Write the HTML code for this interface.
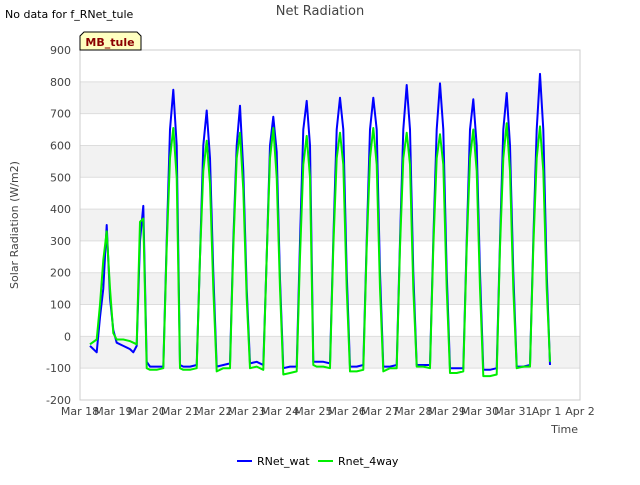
<!DOCTYPE html>
<html><head><meta charset="utf-8"><style>
body{margin:0;background:#fff;font-family:"Liberation Sans",sans-serif}
svg text{font-family:"DejaVu Sans","Liberation Sans",sans-serif}
</style></head><body>
<svg id="chart" width="640" height="480">
<rect width="640" height="480" fill="#fff"/>
<g id="bands"></g><g id="grid"></g>
<rect x="80" y="50" width="500" height="350" fill="none" stroke="#ccc"/>
<g id="axes"></g><g id="series"></g>
<text x="5" y="18" font-size="11" fill="#000">No data for f_RNet_tule</text>
<text x="320" y="15" font-size="13" fill="#444" text-anchor="middle">Net Radiation</text>
<g><path d="M80,50 L80,36 L84,32 L137,32 L141,36 L141,50 Z" fill="#ffffc0" stroke="#000"/>
<text x="110" y="46" font-size="11" font-weight="bold" fill="#8b0000" text-anchor="middle">MB_tule</text></g>
<text x="18" y="225" font-size="11" fill="#444" text-anchor="middle" transform="rotate(-90 18 225)">Solar Radiation (W/m2)</text>
<text x="578" y="433" font-size="11" fill="#444" text-anchor="end">Time</text>
<g><line x1="237" y1="461" x2="252" y2="461" stroke="#0000ff" stroke-width="2"/><text x="257" y="465" font-size="11" fill="#000">RNet_wat</text></g>
<g><line x1="318" y1="461" x2="333" y2="461" stroke="#00ee00" stroke-width="2"/><text x="338" y="465" font-size="11" fill="#000">Rnet_4way</text></g>
</svg>
<script>
const yTicks=[-200,-100,0,100,200,300,400,500,600,700,800,900];
const xLabels=["Mar 18","Mar 19","Mar 20","Mar 21","Mar 22","Mar 23","Mar 24","Mar 25","Mar 26","Mar 27","Mar 28","Mar 29","Mar 30","Mar 31","Apr 1","Apr 2"];
const dayOffsets=[0.3,0.5,0.6,0.7,0.8,0.9,1.0,1.1];
const watValues=[
[-30,-50,60,150,350,120,20,-20],
[-30,-40,-50,-30,300,410,-80,-95],
[-95,-95,300,650,775,600,-90,-95],
[-95,-90,250,600,710,560,200,-95],
[-90,-85,300,600,725,520,150,-85],
[-80,-90,250,600,690,580,180,-100],
[-95,-95,300,650,740,600,-80,-80],
[-80,-85,300,650,750,650,200,-95],
[-95,-90,300,650,750,650,200,-95],
[-95,-90,300,650,790,650,200,-90],
[-90,-90,300,650,795,650,200,-100],
[-100,-100,300,650,745,600,200,-105],
[-105,-100,300,650,765,600,200,-95],
[-95,-90,300,650,825,650,200,-90]];
const wayValues=[
[-25,-10,100,240,330,150,10,-10],
[-10,-15,-20,-25,360,370,-100,-105],
[-105,-100,280,560,655,500,-100,-105],
[-105,-100,250,520,615,480,150,-110],
[-100,-100,280,560,640,460,120,-100],
[-95,-105,250,560,655,500,150,-120],
[-115,-110,250,540,630,500,-90,-95],
[-95,-100,280,560,640,540,150,-110],
[-110,-105,280,560,655,540,150,-110],
[-100,-100,280,560,640,540,150,-95],
[-95,-100,280,560,635,540,150,-115],
[-115,-110,280,560,650,520,150,-125],
[-125,-120,280,560,670,520,150,-100],
[-95,-95,280,560,660,520,150,-80]];
const NS="http://www.w3.org/2000/svg";
const X0=80,X1=580,Y0=400,Y1=50;
function xs(t){return X0+(X1-X0)*t/15;}
function ys(v){return Y0-(Y0-Y1)*(v+200)/1100;}
function mk(tag,attrs,parent){const e=document.createElementNS(NS,tag);for(const k in attrs)e.setAttribute(k,attrs[k]);parent.appendChild(e);return e;}
const bands=document.getElementById('bands'),grid=document.getElementById('grid'),axes=document.getElementById('axes'),series=document.getElementById('series');
for(let i=0;i<yTicks.length-1;i++){
  if((yTicks[i]/100)%2!==0){const r=mk('rect',{x:X0,y:ys(yTicks[i+1]),width:X1-X0,height:ys(yTicks[i])-ys(yTicks[i+1]),fill:'#f2f2f2'},bands);
  
  }
}
yTicks.forEach(v=>{
  const l=mk('line',{x1:X0,x2:X1,y1:ys(v),y2:ys(v),stroke:'#ddd'},grid);
  
  
  const t=mk('text',{x:X0-9,y:ys(v)+4,'font-size':11,fill:'#444','text-anchor':'end'},axes);
  t.textContent=v;
  
  
});
xLabels.forEach((s,i)=>{
  const t=mk('text',{x:xs(i),y:415,'font-size':11,fill:'#444','text-anchor':'middle'},axes);
  t.textContent=s;
  
  
});
function draw(vals,color,name){
  const pts=[];
  vals.forEach((day,d)=>day.forEach((v,k)=>pts.push(xs(d+dayOffsets[k]).toFixed(1)+','+ys(v).toFixed(1))));
  const p=mk('polyline',{points:pts.join(' '),fill:'none',stroke:color,'stroke-width':2,'stroke-linejoin':'round'},series);
  
  
}
draw(watValues,'#0000ff','series-rnet-wat');
draw(wayValues,'#00ee00','series-rnet-4way');
</script>
</body></html>
